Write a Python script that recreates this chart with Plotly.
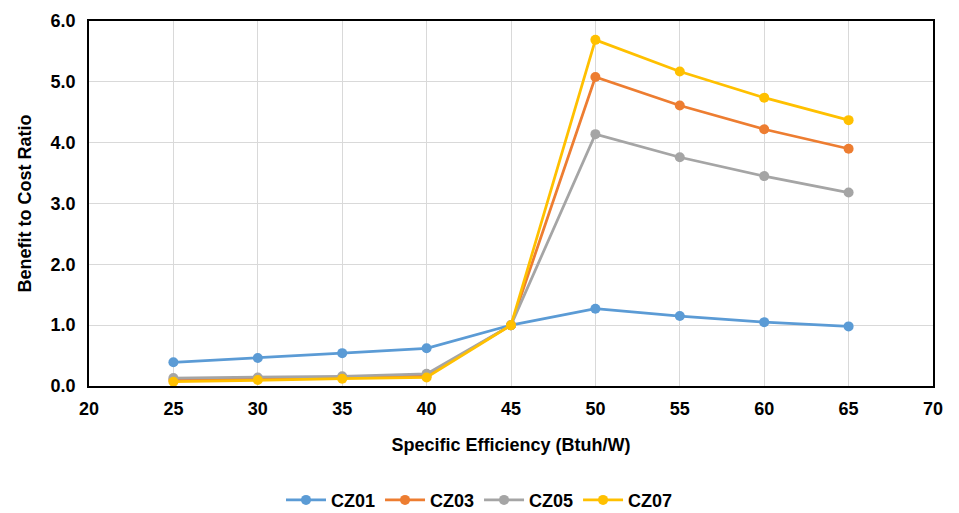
import plotly.graph_objects as go

x_vals = [25, 30, 35, 40, 45, 50, 55, 60, 65]
series_names = ["CZ01", "CZ03", "CZ05", "CZ07"]
cz01 = [0.39, 0.46, 0.54, 0.62, 1.00, 1.27, 1.15, 1.05, 0.98]
cz03 = [0.10, 0.12, 0.14, 0.17, 1.00, 5.08, 4.61, 4.22, 3.90]
cz05 = [0.13, 0.14, 0.16, 0.20, 1.00, 4.14, 3.76, 3.45, 3.18]
cz07 = [0.07, 0.10, 0.12, 0.14, 1.00, 5.69, 5.17, 4.74, 4.37]
colors = ["#5B9BD5", "#ED7D31", "#A5A5A5", "#FFC000"]

font_family = "Liberation Sans, Arial"

fig = go.Figure()
for name, vals, c in zip(series_names, [cz01, cz03, cz05, cz07], colors):
    fig.add_trace(go.Scatter(
        x=x_vals, y=vals, name=name, mode="lines+markers",
        line=dict(color=c, width=2.75),
        marker=dict(color=c, size=10),
    ))

fig.update_layout(
    width=959, height=513,
    margin=dict(l=89, r=26, t=21, b=127, autoexpand=False),
    paper_bgcolor="white", plot_bgcolor="white",
    font=dict(family=font_family, color="#000000", size=18),
    showlegend=True,
    legend=dict(orientation="h", xref="container", x=0.5, xanchor="center",
                yref="container", y=0.025, yanchor="middle",
                font=dict(size=18, family=font_family, weight="bold"),
                itemwidth=40, tracegroupgap=0),
)
fig.update_xaxes(
    range=[20, 70], dtick=5, tick0=20,
    showgrid=True, gridcolor="#D9D9D9", gridwidth=1,
    showline=True, linecolor="black", linewidth=1.5, mirror=True,
    zeroline=False, ticks="", ticklabelstandoff=6,
    tickfont=dict(size=18, family=font_family, weight="bold"),
    title=dict(text="Specific Efficiency (Btuh/W)", standoff=20,
               font=dict(size=18, family=font_family, weight="bold")),
)
fig.update_yaxes(
    range=[0, 6], dtick=1, tickformat=".1f",
    showgrid=True, gridcolor="#D9D9D9", gridwidth=1,
    showline=True, linecolor="black", linewidth=1.5, mirror=True,
    zeroline=False, ticks="", ticklabelstandoff=8,
    tickfont=dict(size=18, family=font_family, weight="bold"),
    title=dict(text="Benefit to Cost Ratio", standoff=14,
               font=dict(size=18, family=font_family, weight="bold")),
)

fig.write_html("out.html")
